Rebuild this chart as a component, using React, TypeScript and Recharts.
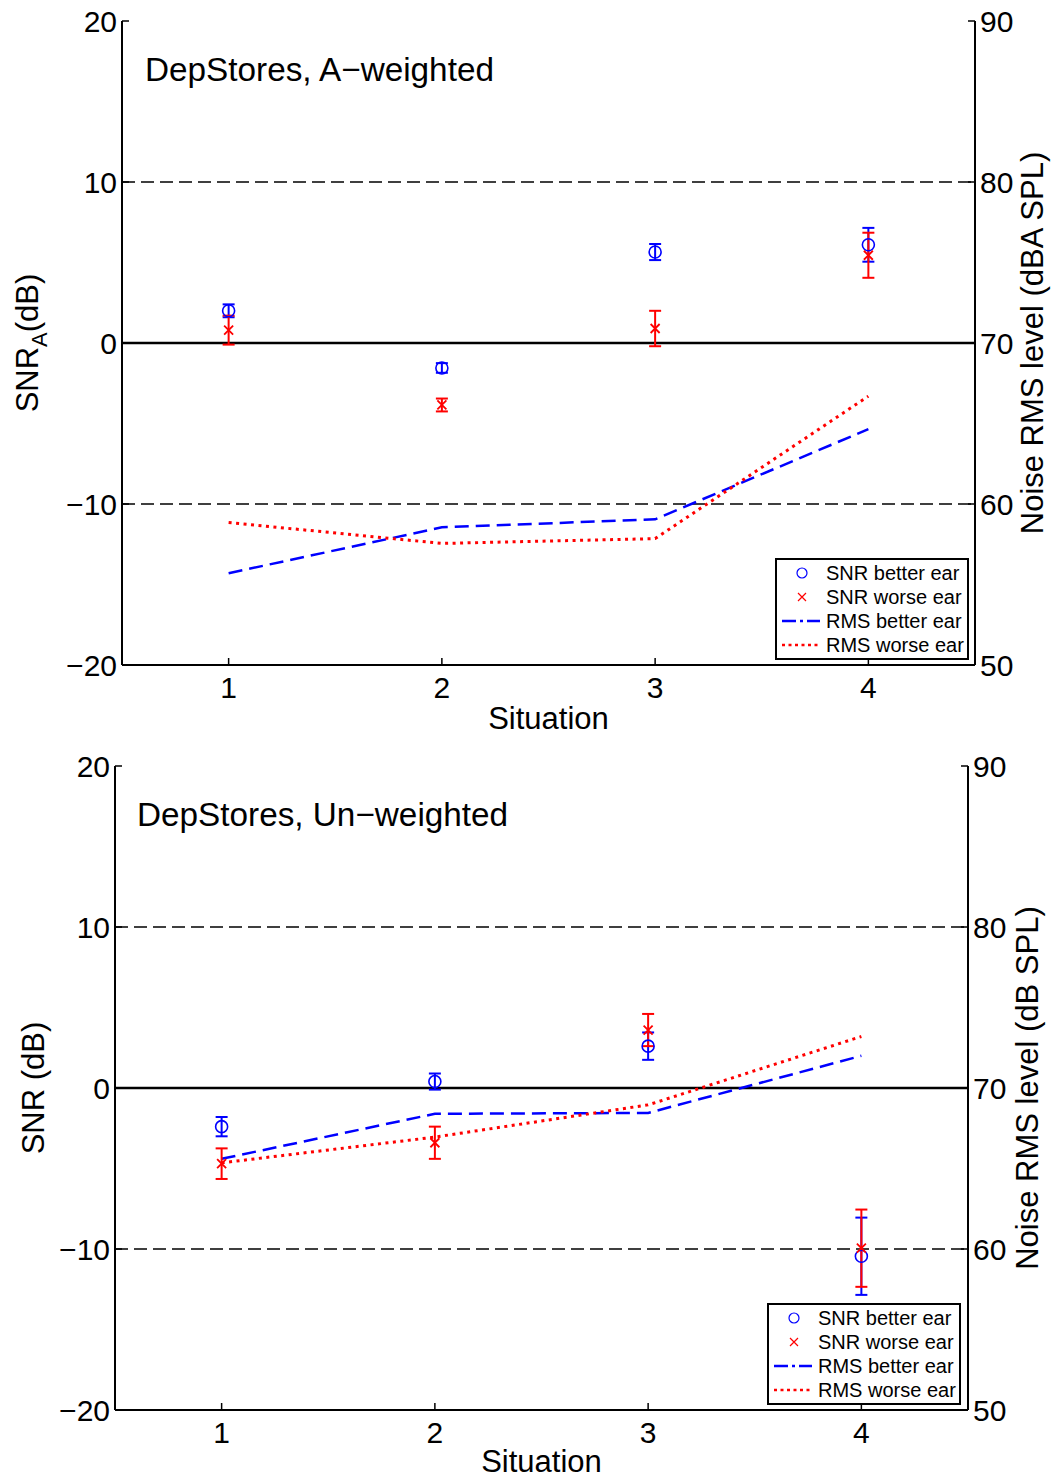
import React from "react";
import {
  ComposedChart,
  Line,
  Scatter,
  ErrorBar,
  XAxis,
  YAxis,
  ReferenceLine,
  Legend,
} from "recharts";

const FONT = '"Liberation Sans", Arial, Helvetica, sans-serif';
const BLUE = "#0000ff";
const RED = "#ff0000";

const situations = [1, 2, 3, 4];
const situationTicks = [1, 2, 3, 4];
const snrTicks = [-20, -10, 0, 10, 20];
const rmsTicks = [50, 60, 70, 80, 90];

// A-weighted measurements
const snrBetterA = [2.0, -1.55, 5.65, 6.1];
const snrBetterErrA = [0.4, 0.3, 0.5, 1.05];
const snrWorseA = [0.8, -3.85, 0.9, 5.45];
const snrWorseErrA = [0.9, 0.4, 1.1, 1.4];
const rmsBetterA = [55.7, 58.55, 59.05, 64.65];
const rmsWorseA = [58.85, 57.55, 57.85, 66.7];

// un-weighted measurements
const snrBetterU = [-2.4, 0.4, 2.6, -10.45];
const snrBetterErrU = [0.6, 0.5, 0.85, 2.4];
const snrWorseU = [-4.7, -3.4, 3.6, -9.95];
const snrWorseErrU = [0.95, 1.0, 1.0, 2.4];
const rmsBetterU = [65.6, 68.4, 68.45, 72.0];
const rmsWorseU = [65.35, 66.95, 68.95, 73.2];

const legendItems = ["SNR better ear", "SNR worse ear", "RMS better ear", "RMS worse ear"];

type Row = {
  x: number;
  better: number;
  betterErr: number;
  worse: number;
  worseErr: number;
  rmsBetter: number;
  rmsWorse: number;
};

function buildRows(
  better: number[],
  betterErr: number[],
  worse: number[],
  worseErr: number[],
  rmsB: number[],
  rmsW: number[]
): Row[] {
  return situations.map((x, i) => ({
    x,
    better: better[i],
    betterErr: betterErr[i],
    worse: worse[i],
    worseErr: worseErr[i],
    rmsBetter: rmsB[i],
    rmsWorse: rmsW[i],
  }));
}

const rowsA = buildRows(snrBetterA, snrBetterErrA, snrWorseA, snrWorseErrA, rmsBetterA, rmsWorseA);
const rowsU = buildRows(snrBetterU, snrBetterErrU, snrWorseU, snrWorseErrU, rmsBetterU, rmsWorseU);

const minus = (v: number) => String(v).replace("-", "\u2212");

const CircleMark = (p: any) => (
  <circle cx={p.cx} cy={p.cy} r={6} fill="none" stroke={BLUE} strokeWidth={1.6} />
);

const CrossMark = (p: any) => {
  const s = 4.5;
  return (
    <path
      d={`M${p.cx - s},${p.cy - s}L${p.cx + s},${p.cy + s}M${p.cx - s},${p.cy + s}L${p.cx + s},${p.cy - s}`}
      stroke={RED}
      strokeWidth={1.8}
      fill="none"
    />
  );
};

function LegendBox() {
  const marker = (i: number) => {
    if (i === 0) return <circle cx={25} cy={12} r={5} fill="none" stroke={BLUE} strokeWidth={1.2} />;
    if (i === 1)
      return <path d="M21,8L29,16M21,16L29,8" stroke={RED} strokeWidth={1.2} fill="none" />;
    if (i === 2)
      return (
        <path d="M5,12H19M23,12H26M30,12H43" stroke={BLUE} strokeWidth={2.5} fill="none" />
      );
    return <line x1={5} y1={12} x2={43} y2={12} stroke={RED} strokeWidth={2.5} strokeDasharray="3 3.5" />;
  };
  return (
    <div
      style={{
        boxSizing: "border-box",
        width: 194,
        height: 102,
        border: "2px solid #000",
        background: "#fff",
        padding: "1px 0",
        fontFamily: FONT,
        fontSize: 20,
        color: "#000",
      }}
    >
      {legendItems.map((name, i) => (
        <div key={name} style={{ display: "flex", alignItems: "center", height: 24 }}>
          <svg width={44} height={24} style={{ flex: "none" }}>
            {marker(i)}
          </svg>
          <span style={{ marginLeft: 5, whiteSpace: "nowrap", lineHeight: "24px" }}>{name}</span>
        </div>
      ))}
    </div>
  );
}

type PanelProps = {
  data: Row[];
  top: number;
  height: number;
  margin: { top: number; right: number; bottom: number; left: number };
  title: string;
  titlePos: { left: number; top: number };
  leftLabel: React.ReactNode;
  leftLabelDx: number;
  rightLabel: string;
  rightLabelDx: number;
  xLabelDy: number;
  legendPos: { left: number; top: number };
};

function Panel(props: PanelProps) {
  const { data, top, height, margin } = props;
  const axisLine = { stroke: "#000", strokeWidth: 2 };
  const tickLine = { stroke: "#000", strokeWidth: 1.5 };
  const tickStyle = { fill: "#000", fontSize: 30, fontFamily: FONT };

  return (
    <div style={{ position: "absolute", left: 0, top, width: 1052, height, fontFamily: FONT }}>
      <ComposedChart width={1052} height={height} data={data} margin={margin}>
        <XAxis
          dataKey="x"
          type="number"
          domain={[0.5, 4.5]}
          ticks={situationTicks}
          axisLine={axisLine}
          tickLine={tickLine}
          tickSize={-7}
          tickMargin={19}
          tick={tickStyle}
          height={40}
          label={(p: any) => {
            const vb = p.viewBox;
            return (
              <text
                x={vb.x + vb.width / 2}
                y={vb.y + props.xLabelDy}
                textAnchor="middle"
                fontSize={31}
                fill="#000"
              >
                Situation
              </text>
            );
          }}
        />
        <XAxis
          xAxisId="top"
          orientation="top"
          type="number"
          domain={[0.5, 4.5]}
          ticks={situationTicks}
          axisLine={axisLine}
          tickLine={tickLine}
          tickSize={-7}
          tick={false}
          height={0}
        />
        <YAxis
          yAxisId="snr"
          type="number"
          domain={[-20, 20]}
          ticks={snrTicks}
          tickFormatter={minus}
          axisLine={axisLine}
          tickLine={tickLine}
          tickSize={-7}
          tickMargin={12}
          tick={tickStyle}
          width={60}
          label={(p: any) => {
            const vb = p.viewBox;
            const cx = vb.x + vb.width - props.leftLabelDx;
            const cy = vb.y + vb.height / 2;
            return (
              <text
                x={cx}
                y={cy}
                transform={`rotate(-90, ${cx}, ${cy})`}
                textAnchor="middle"
                fontSize={31}
                fill="#000"
              >
                {props.leftLabel}
              </text>
            );
          }}
        />
        <YAxis
          yAxisId="rms"
          orientation="right"
          type="number"
          domain={[50, 90]}
          ticks={rmsTicks}
          axisLine={axisLine}
          tickLine={tickLine}
          tickSize={-7}
          tickMargin={12}
          tick={tickStyle}
          width={60}
          label={(p: any) => {
            const vb = p.viewBox;
            const cx = vb.x + props.rightLabelDx;
            const cy = vb.y + vb.height / 2;
            return (
              <text
                x={cx}
                y={cy}
                transform={`rotate(-90, ${cx}, ${cy})`}
                textAnchor="middle"
                fontSize={31}
                fill="#000"
              >
                {props.rightLabel}
              </text>
            );
          }}
        />

        <ReferenceLine yAxisId="snr" y={10} stroke="#000" strokeWidth={1.6} strokeDasharray="13 6" />
        <ReferenceLine yAxisId="snr" y={-10} stroke="#000" strokeWidth={1.6} strokeDasharray="13 6" />
        <ReferenceLine yAxisId="snr" y={0} stroke="#000" strokeWidth={2.5} />

        <Line
          yAxisId="rms"
          type="linear"
          dataKey="rmsBetter"
          name="RMS better ear"
          stroke={BLUE}
          strokeWidth={2.5}
          strokeDasharray="14 7"
          dot={false}
          activeDot={false}
          isAnimationActive={false}
        />
        <Line
          yAxisId="rms"
          type="linear"
          dataKey="rmsWorse"
          name="RMS worse ear"
          stroke={RED}
          strokeWidth={3}
          strokeDasharray="3 4.5"
          dot={false}
          activeDot={false}
          isAnimationActive={false}
        />

        <Scatter
          yAxisId="snr"
          dataKey="better"
          name="SNR better ear"
          shape={CircleMark}
          isAnimationActive={false}
        >
          <ErrorBar dataKey="betterErr" direction="y" width={6} stroke={BLUE} strokeWidth={2} isAnimationActive={false} />
        </Scatter>
        <Scatter
          yAxisId="snr"
          dataKey="worse"
          name="SNR worse ear"
          shape={CrossMark}
          isAnimationActive={false}
        >
          <ErrorBar dataKey="worseErr" direction="y" width={6} stroke={RED} strokeWidth={2} isAnimationActive={false} />
        </Scatter>

        <Legend
          layout="horizontal"
          verticalAlign="middle"
          align="center"
          wrapperStyle={{ left: props.legendPos.left, top: props.legendPos.top, width: 194, height: 102 }}
          content={() => <LegendBox />}
        />
      </ComposedChart>
      <div
        style={{
          position: "absolute",
          left: props.titlePos.left,
          top: props.titlePos.top,
          fontSize: 33.3,
          lineHeight: 1,
          whiteSpace: "nowrap",
          color: "#000",
        }}
      >
        {props.title}
      </div>
    </div>
  );
}

export default function App() {
  return (
    <div style={{ position: "absolute", left: 0, top: 0, width: 1052, height: 1479, background: "#fff" }}>
      <Panel
        data={rowsA}
        top={0}
        height={740}
        margin={{ top: 21, right: 17, bottom: 35, left: 62 }}
        title={"DepStores, A\u2212weighted"}
        titlePos={{ left: 145, top: 53 }}
        leftLabel={
          <>
            <tspan>SNR</tspan>
            <tspan fontSize={22} dy={9}>A</tspan>
            <tspan dy={-9}>(dB)</tspan>
          </>
        }
        leftLabelDx={84}
        rightLabel="Noise RMS level (dBA SPL)"
        rightLabelDx={68}
        xLabelDy={64}
        legendPos={{ left: 775, top: 558 }}
      />
      <Panel
        data={rowsU}
        top={744}
        height={735}
        margin={{ top: 22, right: 24, bottom: 29, left: 55 }}
        title={"DepStores, Un\u2212weighted"}
        titlePos={{ left: 137, top: 54 }}
        leftLabel="SNR (dB)"
        leftLabelDx={71}
        rightLabel="Noise RMS level (dB SPL)"
        rightLabelDx={70}
        xLabelDy={62}
        legendPos={{ left: 767, top: 559 }}
      />
    </div>
  );
}
